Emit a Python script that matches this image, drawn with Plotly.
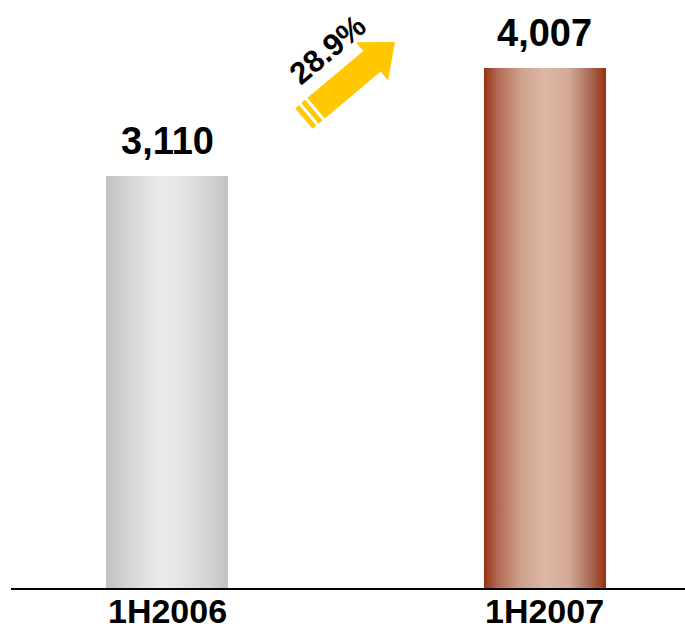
import math
import plotly.graph_objects as go

# Half-year totals
periods = ["1H2006", "1H2007"]
totals = [3110, 4007]
growth_label = "28.9%"

W, H = 685, 630
M_L, M_R, M_T, M_B = 11, 0, 0, 42
PLOT_W = W - M_L - M_R
PLOT_H = H - M_T - M_B

AXIS_FLOOR = -312
AXIS_TOP = 4572
X_RANGE = [-0.4127, 1.3704]
BAR_W = 0.3228

FONT = "Liberation Sans, Arial, sans-serif"

gradients = [
    [[0.0, "#c2c2c2"], [0.2, "#d6d6d6"], [0.45, "#ebebeb"], [0.6, "#e6e6e6"],
     [0.85, "#d2d2d2"], [1.0, "#c2c2c2"]],
    [[0.0, "#9a3212"], [0.1, "#b06550"], [0.3, "#cfa18c"], [0.5, "#dcb8a3"],
     [0.7, "#d2a994"], [0.87, "#aa6a55"], [1.0, "#983010"]],
]

fig = go.Figure()

for i, (name, val) in enumerate(zip(periods, totals)):
    x0, x1 = i - BAR_W / 2, i + BAR_W / 2
    fig.add_trace(go.Scatter(
        x=[x0, x1, x1, x0, x0],
        y=[AXIS_FLOOR, AXIS_FLOOR, val, val, AXIS_FLOOR],
        mode="lines",
        line=dict(width=0),
        fill="toself",
        fillgradient=dict(type="horizontal", colorscale=gradients[i]),
        hoverinfo="skip",
        showlegend=False,
        name=name,
    ))
    # value label above the bar
    fig.add_annotation(
        x=i, y=val, xref="x", yref="y",
        text=f"{val:,}", showarrow=False,
        xanchor="center", yanchor="bottom", yshift=12,
        font=dict(family=FONT, size=38, color="#000000", weight="bold"),
    )
    # category label under the axis line
    fig.add_annotation(
        x=i, y=0, xref="x", yref="paper",
        text=name, showarrow=False,
        xanchor="center", yanchor="top", yshift=-2,
        font=dict(family=FONT, size=34, color="#000000", weight="bold"),
    )


def to_paper(px, py):
    return (px - M_L) / PLOT_W, (M_T + PLOT_H - py) / PLOT_H


# Growth arrow, pointing up-right between the two bars
tip = (395.0, 42.0)
theta = math.radians(40)
u = (math.cos(theta), -math.sin(theta))
n = (math.sin(theta), math.cos(theta))


def pt(s, t):
    sx = tip[0] - s * u[0] + t * n[0]
    sy = tip[1] - s * u[1] + t * n[1]
    return to_paper(sx, sy)


def path(points):
    return "M " + " L ".join(f"{x:.5f},{y:.5f}" for x, y in points) + " Z"


head_len, head_half, shaft_half, shaft_len = 30, 25, 13.5, 73
body = [(0, 0), (head_len, -head_half), (head_len, -shaft_half),
        (head_len + shaft_len, -shaft_half), (head_len + shaft_len, shaft_half),
        (head_len, shaft_half), (head_len, head_half)]
stripes = [(106, 111), (114, 119)]

arrow_color = "#ffc800"
fig.add_shape(type="path", xref="paper", yref="paper",
              path=path([pt(s, t) for s, t in body]),
              fillcolor=arrow_color, line=dict(width=0), layer="above")
for a, b in stripes:
    fig.add_shape(type="path", xref="paper", yref="paper",
                  path=path([pt(a, -shaft_half), pt(b, -shaft_half),
                             pt(b, shaft_half), pt(a, shaft_half)]),
                  fillcolor=arrow_color, line=dict(width=0), layer="above")

lx, ly = to_paper(328, 50)
fig.add_annotation(
    x=lx, y=ly, xref="paper", yref="paper",
    text=growth_label, showarrow=False, textangle=-40,
    xanchor="center", yanchor="middle",
    font=dict(family=FONT, size=31, color="#000000", weight="bold"),
)

fig.update_layout(
    width=W, height=H,
    margin=dict(l=M_L, r=M_R, t=M_T, b=M_B, autoexpand=False),
    paper_bgcolor="white", plot_bgcolor="white",
    showlegend=False,
    xaxis=dict(
        range=X_RANGE, showticklabels=False,
        showgrid=False, zeroline=False, showline=True,
        linecolor="#000000", linewidth=2, ticks="", automargin=False,
        fixedrange=True,
    ),
    yaxis=dict(
        range=[AXIS_FLOOR, AXIS_TOP], visible=False, showgrid=False,
        zeroline=False, fixedrange=True, automargin=False,
    ),
)

fig.write_html("out.html")
